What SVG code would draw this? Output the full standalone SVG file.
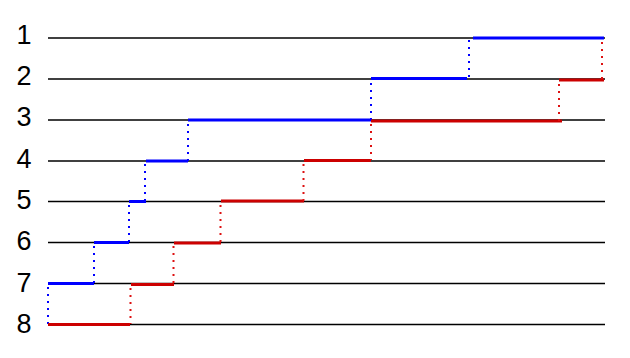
<svg xmlns="http://www.w3.org/2000/svg" width="630" height="358" viewBox="0 0 630 358">
<style>
.lbl{font-family:"Liberation Sans",Arial,sans-serif;font-size:27px;fill:#000;text-anchor:middle}
.axis{stroke:#000;stroke-width:1.6}
.b{stroke:#0000ff;stroke-width:3;fill:none}
.r{stroke:#cc0000;stroke-width:3;fill:none}
.bd{stroke:#0000ff;stroke-width:2;stroke-dasharray:2 5;fill:none}
.rd{stroke:#dd1111;stroke-width:2;stroke-dasharray:2 5;fill:none}
</style>
<rect width="630" height="358" fill="#fff"/>
<g id="levels">
<g id="level1"><text class="lbl" x="24" y="44">1</text><line class="axis" x1="48" y1="38" x2="605" y2="38"/></g>
<g id="level2"><text class="lbl" x="24" y="85.2">2</text><line class="axis" x1="48" y1="79" x2="605" y2="79"/></g>
<g id="level3"><text class="lbl" x="24" y="126.4">3</text><line class="axis" x1="48" y1="120" x2="605" y2="120"/></g>
<g id="level4"><text class="lbl" x="24" y="167.6">4</text><line class="axis" x1="48" y1="161" x2="605" y2="161"/></g>
<g id="level5"><text class="lbl" x="24" y="208.8">5</text><line class="axis" x1="48" y1="201.5" x2="605" y2="201.5"/></g>
<g id="level6"><text class="lbl" x="24" y="250">6</text><line class="axis" x1="48" y1="242.5" x2="605" y2="242.5"/></g>
<g id="level7"><text class="lbl" x="24" y="291.5">7</text><line class="axis" x1="48" y1="283.5" x2="605" y2="283.5"/></g>
<g id="level8"><text class="lbl" x="24" y="333">8</text><line class="axis" x1="48" y1="324.5" x2="605" y2="324.5"/></g>
</g>
<g id="connectors">
<g id="blue">
<line class="b" x1="48" y1="283.5" x2="94" y2="283.5"/>
<line class="b" x1="94" y1="242.5" x2="129" y2="242.5"/>
<line class="b" x1="129" y1="201.5" x2="146" y2="201.5"/>
<line class="b" x1="146" y1="161" x2="188" y2="161"/>
<line class="b" x1="188" y1="120" x2="371" y2="120"/>
<line class="b" x1="371" y1="78.5" x2="467" y2="78.5"/>
<line class="b" x1="473" y1="38" x2="604" y2="38"/>
<line class="bd" x1="48" y1="287" x2="48" y2="324"/>
<line class="bd" x1="94" y1="246" x2="94" y2="283"/>
<line class="bd" x1="129" y1="205" x2="129" y2="242"/>
<line class="bd" x1="145" y1="164" x2="145" y2="201"/>
<line class="bd" x1="188" y1="124" x2="188" y2="161"/>
<line class="bd" x1="371" y1="83" x2="371" y2="120"/>
<line class="bd" x1="469" y1="40" x2="469" y2="79"/>
</g>
<g id="red">
<line class="r" x1="48" y1="324.5" x2="130" y2="324.5"/>
<line class="r" x1="131" y1="284.5" x2="174" y2="284.5"/>
<line class="r" x1="174" y1="243" x2="221" y2="243"/>
<line class="r" x1="221" y1="201" x2="304" y2="201"/>
<line class="r" x1="304" y1="160.5" x2="371" y2="160.5"/>
<line class="r" x1="371" y1="121" x2="562" y2="121"/>
<line class="r" x1="559" y1="80" x2="604" y2="80"/>
<line class="rd" x1="130.5" y1="288" x2="130.5" y2="324"/>
<line class="rd" x1="173.5" y1="246" x2="173.5" y2="284"/>
<line class="rd" x1="220.5" y1="205" x2="220.5" y2="243"/>
<line class="rd" x1="303.5" y1="164" x2="303.5" y2="201"/>
<line class="rd" x1="371" y1="124" x2="371" y2="160"/>
<line class="rd" x1="559" y1="84" x2="559" y2="121"/>
<line class="rd" x1="602" y1="42" x2="602" y2="80"/>
</g>
</g>
</svg>
